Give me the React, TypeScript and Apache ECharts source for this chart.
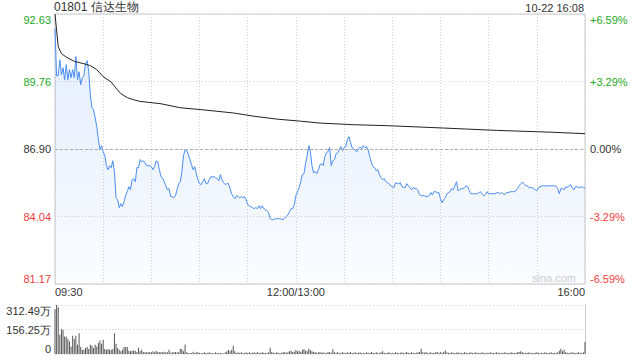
import React, { useEffect, useRef } from 'react';
import * as echarts from 'echarts';

const FONT = '"Liberation Sans", Arial, sans-serif';
const titleText = '01801 信达生物';
const stampText = '10-22 16:08';
const watermark = 'sina.com';
const prevClose = 86.9;
const priceTicks = ['81.17', '84.04', '86.90', '89.76', '92.63'];
const pctTicks = ['-6.59%', '-3.29%', '0.00%', '+3.29%', '+6.59%'];
const volTicks = ['0', '156.25万', '312.49万'];
const timeTicks: Record<number, string> = { 0: '09:30', 150: '12:00/13:00', 330: '16:00' };

// minute-by-minute price (minute 0 = 09:30, 150 = 12:00/13:00, 330 = 16:00)
const price = [
  92.01, 90.01, 90.01, 90.69, 90.05, 90.35, 89.84, 90.48, 89.84, 90.27,
  89.93, 90.27, 89.93, 90.82, 89.84, 90.18, 89.63, 89.93, 90.01, 90.52,
  90.65, 90.18, 89.2, 88.65, 88.57, 88.23, 87.85, 87.3, 86.87, 87.04,
  86.79, 86.62, 86.19, 86.02, 86.19, 86.11, 86.4, 85.94, 84.83, 84.75,
  84.41, 84.58, 84.45, 84.66, 84.92, 85.09, 85.3, 85.17, 85.6, 85.64,
  85.51, 86.11, 86.11, 86.45, 86.36, 86.4, 86.32, 86.19, 86.19, 86.19,
  86.15, 86.02, 86.15, 86.4, 86.36, 86.02, 85.72, 85.68, 85.51, 85.34,
  85.17, 85.22, 84.88, 84.88, 84.83, 84.92, 85.17, 85.43, 85.51, 85.94,
  86.62, 86.87, 86.83, 86.66, 86.45, 86.23, 86.02, 86.15, 85.85, 85.6,
  85.43, 85.39, 85.51, 85.64, 85.43, 85.43, 85.6, 85.72, 85.72, 85.72,
  85.68, 85.64, 85.55, 85.81, 85.6, 85.47, 85.39, 85.43, 85.43, 85.22,
  85.0, 84.88, 84.79, 84.92, 84.88, 84.83, 84.88, 84.83, 84.88, 84.75,
  84.54, 84.49, 84.45, 84.41, 84.37, 84.41, 84.37, 84.49, 84.37, 84.49,
  84.37, 84.32, 84.28, 84.2, 83.94, 83.9, 83.9, 83.94, 83.94, 83.94,
  83.94, 83.92, 83.9, 83.98, 84.03, 84.11, 84.24, 84.37, 84.37, 84.54,
  84.92, 85.09, 85.26, 85.51, 85.81, 85.85, 86.28, 86.62, 87.04, 86.79,
  86.19, 85.89, 85.94, 85.85, 86.02, 86.23, 86.28, 86.19, 86.57, 86.74,
  86.79, 86.96, 86.19, 86.4, 86.45, 86.7, 86.74, 86.87, 87.0, 86.83,
  86.96, 87.0, 87.29, 87.42, 87.17, 86.96, 86.91, 86.83, 86.79, 86.91,
  86.98, 86.91, 87.04, 86.96, 87.0, 86.87, 86.57, 86.32, 86.15, 86.11,
  85.98, 86.02, 85.81, 85.68, 85.6, 85.64, 85.51, 85.47, 85.43, 85.34,
  85.3, 85.26, 85.47, 85.43, 85.43, 85.47, 85.3, 85.26, 85.26, 85.43,
  85.34, 85.26, 85.17, 85.26, 85.22, 85.22, 85.13, 84.96, 84.92, 84.92,
  84.92, 84.88, 84.88, 84.92, 85.05, 84.96, 85.09, 85.09, 85.05, 85.05,
  84.79, 84.62, 84.75, 84.83, 85.0, 85.05, 85.09, 85.22, 85.17, 85.34,
  85.51, 85.13, 85.17, 85.22, 85.22, 85.26, 85.34, 85.3, 85.13, 85.0,
  85.0, 85.0, 85.0, 85.0, 85.05, 85.09, 84.96, 84.92, 84.96, 85.09,
  85.0, 85.0, 85.0, 85.0, 85.0, 85.05, 85.05, 85.0, 85.05, 85.0,
  84.96, 85.05, 85.05, 85.07, 85.09, 85.09, 85.09, 85.13, 85.22, 85.34,
  85.43, 85.49, 85.43, 85.34, 85.34, 85.26, 85.26, 85.26, 85.22, 85.17,
  85.13, 85.26, 85.3, 85.32, 85.34, 85.34, 85.32, 85.34, 85.34, 85.34,
  85.34, 85.34, 85.32, 85.22, 85.0, 85.22, 85.22, 85.17, 85.3, 85.26,
  85.34, 85.39, 85.26, 85.17, 85.3, 85.3, 85.28, 85.26, 85.3, 85.26, 85.24,
];

// average price line, read at these minutes
const avgMinute = [0, 2, 4, 7, 12, 18, 22, 26, 30, 35, 38, 41, 45, 49, 53, 66, 78, 91, 111, 124, 138, 153, 165, 186, 207, 242, 275, 310, 330];
const avgPrice = [92.63, 91.24, 90.95, 90.8, 90.62, 90.52, 90.44, 90.27, 89.97, 89.74, 89.48, 89.25, 89.08, 88.99, 88.92, 88.82, 88.65, 88.57, 88.43, 88.29, 88.17, 88.08, 88.0, 87.93, 87.89, 87.79, 87.69, 87.61, 87.55];

// volume per minute, in 万
const volume = [
  285, 312, 298, 122, 158, 154, 112, 112, 95, 80,
  48, 116, 95, 116, 59, 133, 44, 27, 27, 38,
  44, 32, 59, 53, 38, 59, 48, 70, 86, 65,
  91, 32, 27, 32, 27, 27, 32, 133, 65, 38,
  27, 17, 27, 44, 44, 44, 21, 17, 21, 23,
  21, 13, 40, 17, 27, 13, 11, 11, 11, 13,
  11, 17, 11, 21, 13, 11, 13, 11, 15, 11,
  11, 27, 8, 11, 11, 13, 11, 11, 32, 32,
  17, 61, 11, 6, 4, 6, 15, 6, 11, 11,
  6, 6, 6, 11, 6, 6, 11, 6, 6, 4,
  11, 6, 6, 6, 6, 2, 11, 17, 27, 17,
  27, 53, 17, 6, 11, 6, 11, 6, 6, 11,
  6, 11,
  6, 8, 11, 6, 13, 8, 6, 11, 8, 6, 8, 11, 40, 13, 8, 6, 11, 8,
  6, 8, 11, 13, 8, 11, 17, 21, 13, 15, 25, 17, 21, 13, 27, 30, 21, 17, 33, 25,
  17, 13, 11, 8, 11, 13, 8, 11, 6, 8, 11, 13, 8, 31, 11, 8, 13, 6, 8, 11,
  8, 6, 11, 8, 13, 6, 8, 11, 6, 8, 11, 6, 8, 6, 11, 8, 6, 13, 8, 6,
  11, 8, 6, 11, 17, 8, 6, 8, 11, 6, 8, 6, 11, 8, 6, 8, 11, 6, 8, 13,
  8, 6, 11, 8, 6, 8, 11, 13, 33, 11, 8, 13, 6, 8, 11, 6, 8, 11, 13, 8,
  11, 8, 13, 23, 11, 8, 6, 11, 8, 6, 8, 11, 6, 8, 6, 11, 8, 6, 8, 11,
  6, 8, 11, 6, 8, 6, 11, 8, 6, 8, 6, 11, 8, 6, 8, 11, 6, 8, 6, 8,
  11, 6, 8, 6, 11, 8, 6, 8, 11, 13, 17, 11, 8, 6, 8, 11, 6, 8, 6, 8,
  11, 8, 6, 8, 6, 11, 8, 6, 8, 11, 6, 8, 6, 11, 21, 33, 17, 27, 11, 8,
  6, 8, 11, 8, 6, 8, 11, 8, 6, 11, 76,
];

const GREEN = '#23a923';
const RED = '#f03c3c';
const DARK = '#333333';
const tickColor = (i: number) => (i > 2 ? GREEN : i < 2 ? RED : DARK);

const P_MIN = 81.17, P_MAX = 92.63, P_INT = 2.865;
const R_MIN = -6.59, R_MAX = 6.59, R_INT = 3.295;
const V_MAX = 312.49, V_INT = 156.245;

export default function App() {
  const ref = useRef<HTMLDivElement>(null);
  useEffect(() => {
    if (!ref.current) return;
    const chart = echarts.init(ref.current, undefined, { renderer: 'svg' });
    const pIdx = (v: any) => Math.round((Number(v) - P_MIN) / P_INT);
    const rIdx = (v: any) => Math.round((Number(v) - R_MIN) / R_INT);
    const vIdx = (v: any) => Math.round(Number(v) / V_INT);
    const dotted = { color: '#d2d2d2', type: [1, 2] as any, width: 1 };
    chart.setOption({
      animation: false,
      textStyle: { fontFamily: FONT },
      title: [
        { text: titleText, left: 54, top: 1, padding: 0, textStyle: { fontSize: 12, fontWeight: 'normal', color: DARK, fontFamily: FONT } },
        { text: stampText, right: 56, top: 2, padding: 0, textStyle: { fontSize: 11, fontWeight: 'normal', color: DARK, fontFamily: FONT } },
      ],
      grid: [
        { left: 55, top: 14, width: 530, height: 270, show: true, borderColor: '#c8c8c8', borderWidth: 1, backgroundColor: 'transparent' },
        { left: 55, top: 305, width: 530, height: 49 },
      ],
      xAxis: [
        {
          type: 'value', gridIndex: 0, min: 0, max: 330, interval: 30,
          axisLine: { show: false }, axisTick: { show: false },
          splitLine: { show: true, lineStyle: dotted },
          axisLabel: {
            formatter: (v: number) => timeTicks[v] ?? '',
            color: DARK, fontSize: 11, fontFamily: FONT, margin: 2,
            alignMinLabel: 'left', alignMaxLabel: 'right', showMinLabel: true, showMaxLabel: true,
          },
        },
        {
          type: 'value', gridIndex: 1, min: 0, max: 330, interval: 30,
          axisLine: { show: false }, axisTick: { show: false }, splitLine: { show: false }, axisLabel: { show: false },
        },
      ],
      yAxis: [
        {
          type: 'value', gridIndex: 0, position: 'left', min: P_MIN, max: P_MAX, interval: P_INT,
          axisLine: { show: false }, axisTick: { show: false },
          splitLine: { show: true, lineStyle: dotted },
          axisLabel: {
            formatter: (v: number) => priceTicks[pIdx(v)] ?? '',
            color: (v: any) => tickColor(pIdx(v)),
            fontSize: 11, fontFamily: FONT, margin: 4,
            verticalAlignMinLabel: 'bottom', verticalAlignMaxLabel: 'top', showMinLabel: true, showMaxLabel: true,
          },
        },
        {
          type: 'value', gridIndex: 0, position: 'right', min: R_MIN, max: R_MAX, interval: R_INT,
          axisLine: { show: false }, axisTick: { show: false }, splitLine: { show: false },
          axisLabel: {
            formatter: (v: number) => pctTicks[rIdx(v)] ?? '',
            color: (v: any) => tickColor(rIdx(v)),
            fontSize: 11, fontFamily: FONT, margin: 5,
            verticalAlignMinLabel: 'bottom', verticalAlignMaxLabel: 'top', showMinLabel: true, showMaxLabel: true,
          },
        },
        {
          type: 'value', gridIndex: 1, position: 'left', min: 0, max: V_MAX, interval: V_INT,
          axisLine: { show: false }, axisTick: { show: false },
          splitLine: { show: true, lineStyle: dotted },
          axisLabel: {
            formatter: (v: number) => volTicks[vIdx(v)] ?? '',
            color: DARK, fontSize: 11, fontFamily: FONT, margin: 4,
            verticalAlignMinLabel: 'bottom', verticalAlignMaxLabel: 'top', showMinLabel: true, showMaxLabel: true,
          },
        },
        {
          type: 'value', gridIndex: 1, position: 'right', min: 0, max: V_MAX,
          axisLine: { show: true, lineStyle: { color: '#c8c8c8', width: 1 } }, axisTick: { show: false },
          splitLine: { show: false }, axisLabel: { show: false },
        },
      ],
      graphic: [
        { type: 'text', left: 532, top: 272, silent: true, style: { text: watermark, fill: '#cfcfcf', font: `11px ${FONT}` } },
      ],
      series: [
        {
          type: 'line', xAxisIndex: 0, yAxisIndex: 0, symbol: 'none',
          data: price.map((v, i) => [i, v]),
          lineStyle: { color: '#4a8cf0', width: 1 },
          areaStyle: {
            origin: 'start',
            color: new echarts.graphic.LinearGradient(0, 0, 0, 1, [
              { offset: 0, color: 'rgba(74,140,240,0.22)' },
              { offset: 1, color: 'rgba(74,140,240,0.04)' },
            ]),
          },
          markLine: {
            silent: true, symbol: 'none', label: { show: false },
            lineStyle: { color: '#b0b0b0', type: [3, 2], width: 1 },
            data: [{ yAxis: prevClose }],
          },
          z: 3,
        },
        {
          type: 'line', xAxisIndex: 0, yAxisIndex: 0, symbol: 'none',
          data: avgMinute.map((m, i) => [m, avgPrice[i]]),
          lineStyle: { color: '#222', width: 1 },
          z: 4,
        },
        {
          type: 'bar', xAxisIndex: 1, yAxisIndex: 2, barWidth: 1,
          data: volume.map((v, i) => [i, v]),
          itemStyle: { color: '#555' },
        },
      ],
    });
    return () => chart.dispose();
  }, []);
  return <div ref={ref} style={{ position: 'absolute', left: 0, top: 0, width: 640, height: 360 }} />;
}
